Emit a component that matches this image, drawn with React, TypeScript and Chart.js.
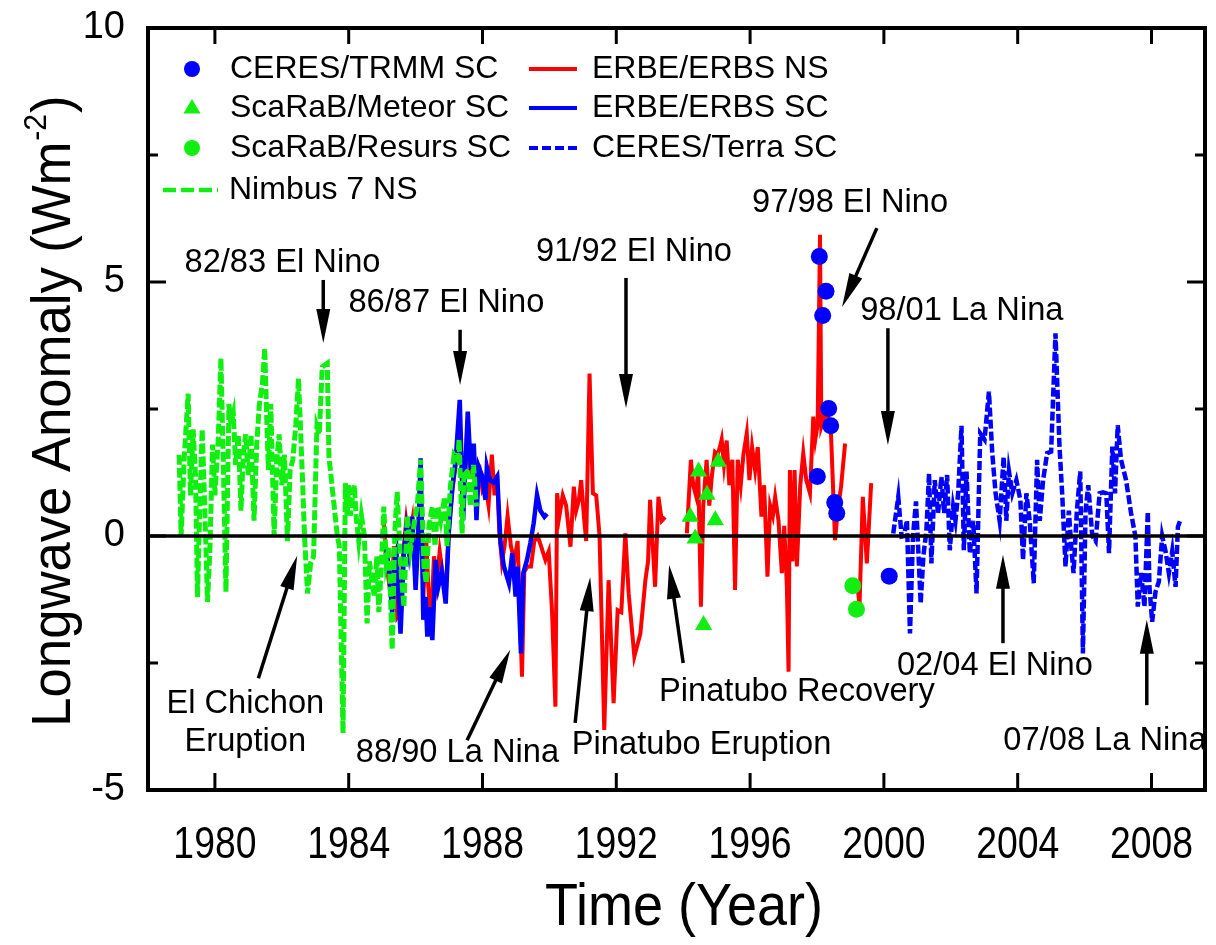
import React, { useEffect, useRef } from 'react';
import { Chart, registerables } from 'chart.js';

Chart.register(...registerables);

const FONT = "'Liberation Sans', Arial, Helvetica, sans-serif";
const RED = '#ff0000';
const BLUE = '#0000ff';
const GREEN = '#11ee11';

const X_MIN = 1978;
const X_MAX = 2009.6;
const Y_MIN = -5;
const Y_MAX = 10;

const xTickYears = [1980, 1984, 1988, 1992, 1996, 2000, 2004, 2008];
const yMajorTicks = [-5, 0, 5, 10];
const yMinorTicks = [-2.5, 2.5, 7.5];

// Nimbus 7 NS (green dashed)
const nimbus7NS: [number, number][] = [
  [1978.93, 1.6], [1978.99, 0.0], [1979.08, 1.5], [1979.2, 2.8], [1979.27, 0.8], [1979.35, 2.1],
  [1979.42, 1.2], [1979.48, -1.2], [1979.55, 0.6], [1979.62, 2.1], [1979.7, 0.5], [1979.78, -1.3],
  [1979.85, -0.3], [1979.93, 1.8], [1980.0, 0.8], [1980.1, 1.9], [1980.18, 3.5], [1980.25, 1.5],
  [1980.33, -1.1], [1980.42, 2.6], [1980.48, 2.2], [1980.55, 2.4], [1980.62, 1.4], [1980.7, 2.0],
  [1980.78, 0.5], [1980.85, 1.6], [1980.92, 2.0], [1981.0, 1.2], [1981.08, 2.0], [1981.17, 0.3],
  [1981.25, 1.8], [1981.33, 2.6], [1981.42, 3.0], [1981.49, 3.7], [1981.55, 2.3], [1981.6, 1.3],
  [1981.67, 2.6], [1981.77, 0.0], [1981.85, 1.5], [1981.92, 2.0], [1982.0, 1.0], [1982.08, 1.6],
  [1982.17, -0.1], [1982.25, 1.3], [1982.33, 1.5], [1982.42, 2.2], [1982.5, 3.1], [1982.62, 1.1],
  [1982.68, 0.0], [1982.77, -1.13], [1982.86, -0.54], [1982.95, -0.4], [1983.05, 2.15], [1983.12, 2.0],
  [1983.21, 3.33], [1983.36, 3.4], [1983.41, 1.56], [1983.58, 0.5], [1983.66, 0.0], [1983.72, -0.2],
  [1983.83, -3.88], [1983.9, 1.04], [1983.95, 0.4], [1984.0, 1.0], [1984.05, 0.4], [1984.1, 0.7],
  [1984.17, 1.0], [1984.22, 0.4], [1984.3, -0.1], [1984.38, 0.4], [1984.47, 0.0], [1984.55, -1.72],
  [1984.62, -0.5], [1984.7, -0.9], [1984.77, -1.2], [1984.84, -0.4], [1984.9, -1.5], [1984.97, -0.7],
  [1985.05, 0.58], [1985.12, -0.5], [1985.2, -0.2], [1985.3, -2.24], [1985.38, 0.1], [1985.45, 0.87],
  [1985.55, -0.54], [1985.65, -1.4], [1985.75, 0.4], [1985.85, -0.25], [1985.95, 0.22], [1986.05, 0.6],
  [1986.15, 1.5], [1986.25, -0.6], [1986.32, -0.93], [1986.4, 0.2], [1986.5, 0.58], [1986.58, -0.2],
  [1986.66, 0.58], [1986.75, 0.3], [1986.87, 0.77], [1986.94, -0.2], [1987.04, 0.97], [1987.15, 1.6],
  [1987.26, 1.5], [1987.3, 1.9], [1987.39, 0.05], [1987.45, 1.3], [1987.55, 1.25], [1987.64, 0.58],
  [1987.73, 1.4], [1987.82, 0.58],
];

// ERBE/ERBS NS (red solid), null = data gap
const erbeNS: [number, number | null][] = [
  [1985.05, 0.3], [1985.12, -0.5], [1985.2, -0.9], [1985.28, -1.3], [1985.35, -0.2], [1985.45, -1.6],
  [1985.55, -1.5], [1985.62, -0.4], [1985.72, 0.3], [1985.8, -0.1], [1985.9, 0.3], [1986.0, -0.9],
  [1986.08, 0.2], [1986.15, 1.3], [1986.23, -1.2], [1986.32, -0.1], [1986.38, -1.0], [1986.46, -1.7],
  [1986.55, -0.4], [1986.63, -0.9], [1986.72, -0.3], [1986.8, -0.7], [1986.9, -1.2], [1986.99, 0.1],
  [1987.1, 0.9], [1987.2, 1.4], [1987.32, 2.4], [1987.42, 0.5], [1987.56, 2.3], [1987.65, 1.2],
  [1987.74, 1.7], [1987.82, 0.6], [1987.9, 1.4], [1988.0, 0.9], [1988.09, 1.0], [1988.18, 0.6],
  [1988.28, 1.6], [1988.36, 0.8], [1988.44, 1.2], [1988.5, 0.1], [1988.58, -0.5], [1988.66, -0.2],
  [1988.75, 0.4], [1988.85, -0.2], [1988.95, -0.5], [1989.05, -0.1], [1989.18, -2.77], [1989.25, -0.7],
  [1989.35, -0.6], [1989.45, -0.6], [1989.55, -0.1], [1989.65, 0.0], [1989.75, -0.2], [1989.88, -0.47],
  [1989.98, -0.3], [1990.08, -1.5], [1990.18, -3.36], [1990.23, 0.84], [1990.3, 0.4], [1990.4, 0.8],
  [1990.5, 0.6], [1990.63, -0.21], [1990.73, 0.97], [1990.8, 0.5], [1990.88, 0.7], [1990.95, 1.1],
  [1991.03, 0.4], [1991.1, -0.1], [1991.2, 3.2], [1991.3, 0.84], [1991.4, 0.8], [1991.5, 0.0],
  [1991.64, -3.82], [1991.77, -0.87], [1991.92, -3.29], [1992.04, -1.46], [1992.15, -1.5], [1992.27, 0.05],
  [1992.37, -1.13], [1992.54, -2.37], [1992.72, -1.92], [1992.87, -0.87], [1992.95, -0.5], [1993.01, 0.71],
  [1993.16, -1.0], [1993.26, 0.77], [1993.36, 0.3], [1993.46, 0.37], [1993.8, null], [1994.11, 0.05],
  [1994.23, 1.5], [1994.3, 1.0], [1994.38, 0.8], [1994.45, 1.3], [1994.53, -1.39], [1994.6, 0.6],
  [1994.7, 1.5], [1994.78, 0.6], [1994.86, 1.2], [1994.95, 1.65], [1995.03, 1.6], [1995.1, 1.76],
  [1995.15, 1.9], [1995.22, 1.4], [1995.3, 1.88], [1995.38, 1.0], [1995.47, 1.5], [1995.55, -1.06],
  [1995.63, 1.5], [1995.72, 1.0], [1995.8, 1.6], [1995.9, 2.02], [1995.98, 1.1], [1996.06, 1.75],
  [1996.15, 1.3], [1996.23, 1.75], [1996.34, 0.38], [1996.42, 1.0], [1996.52, -0.8], [1996.6, 0.6],
  [1996.68, 0.4], [1996.75, 0.77], [1996.85, 0.3], [1996.95, -0.73], [1997.02, 0.2], [1997.1, -1.0],
  [1997.15, -2.67], [1997.19, 1.3], [1997.27, -0.5], [1997.33, 1.3], [1997.4, -0.6], [1997.5, 1.0],
  [1997.59, 1.63], [1997.68, 1.1], [1997.79, 0.84], [1997.89, 2.35], [1997.95, 1.9], [1998.02, 2.2],
  [1998.09, 5.93], [1998.13, 2.15], [1998.3, 2.5], [1998.42, 2.0], [1998.54, -0.08], [1998.62, 0.5],
  [1998.72, 0.97], [1998.84, 1.82], [1999.0, null], [1999.22, -1.0], [1999.27, -1.4], [1999.37, 0.77],
  [1999.49, -0.54], [1999.62, 1.04],
];

// ERBE/ERBS SC (blue solid)
const erbeSC: [number, number][] = [
  [1985.1, -0.2], [1985.2, -0.6], [1985.3, -1.52], [1985.38, -0.5], [1985.43, -0.34], [1985.55, -1.92],
  [1985.65, -0.34], [1985.72, 0.12], [1985.8, -0.3], [1985.9, 0.38], [1986.0, -1.06], [1986.08, 0.0],
  [1986.15, 1.53], [1986.23, -1.65], [1986.3, -1.2], [1986.35, -1.98], [1986.42, -1.4], [1986.5, -2.05],
  [1986.6, -0.47], [1986.68, -1.0], [1986.78, -0.7], [1986.9, -1.33], [1986.99, 0.05], [1987.1, 0.97],
  [1987.2, 1.5], [1987.32, 2.68], [1987.42, 0.31], [1987.56, 2.45], [1987.65, 1.3], [1987.74, 1.82],
  [1987.82, 0.31], [1987.89, 1.36], [1987.98, 1.2], [1988.09, 0.71], [1988.13, 1.36], [1988.22, 1.1],
  [1988.33, 1.05], [1988.44, 1.17], [1988.54, -0.14], [1988.64, -0.6], [1988.79, -0.93], [1988.89, -0.34],
  [1988.99, -1.19], [1989.05, -0.6], [1989.15, -2.31], [1989.22, -0.73], [1989.33, -0.47], [1989.43, -0.14],
  [1989.53, 0.25], [1989.63, 0.81], [1989.73, 0.5], [1989.85, 0.38], [1989.93, 0.44],
];

// CERES/Terra SC (blue dashed)
const ceresTerraSC: [number, number][] = [
  [2000.28, 0.05], [2000.43, 0.77], [2000.53, -0.01], [2000.6, 0.0], [2000.69, 0.31], [2000.78, -1.92],
  [2000.87, 0.0], [2000.96, 0.68], [2001.03, -0.3], [2001.1, -1.33], [2001.18, -0.4], [2001.27, 0.1],
  [2001.35, 1.23], [2001.42, -0.54], [2001.52, 1.1], [2001.62, 0.45], [2001.72, 1.16], [2001.8, 0.45],
  [2001.89, 1.2], [2001.97, -0.28], [2002.07, 0.57], [2002.14, 0.3], [2002.22, 0.84], [2002.32, 2.17],
  [2002.39, -0.28], [2002.47, 1.27], [2002.57, -0.34], [2002.67, 0.3], [2002.77, -1.13], [2002.88, 2.02],
  [2003.01, 1.9], [2003.14, 2.84], [2003.24, 1.63], [2003.34, 0.84], [2003.46, 0.3], [2003.58, 1.56],
  [2003.66, 0.3], [2003.74, 1.27], [2003.84, 0.84], [2003.96, 1.1], [2004.08, 0.71], [2004.16, -0.47],
  [2004.26, 0.84], [2004.36, 0.3], [2004.48, -0.93], [2004.58, 1.5], [2004.66, 0.3], [2004.76, 1.1],
  [2004.88, 1.63], [2005.0, 1.66], [2005.13, 3.99], [2005.25, 1.76], [2005.33, 0.84], [2005.43, -0.6],
  [2005.53, 0.5], [2005.6, -0.2], [2005.67, -0.73], [2005.77, 0.5], [2005.87, 1.27], [2005.95, -2.31],
  [2006.03, 0.5], [2006.11, 1.0], [2006.23, 0.0], [2006.33, -0.1], [2006.45, 0.84], [2006.55, 0.86],
  [2006.65, 0.84], [2006.73, -0.34], [2006.83, 1.76], [2006.91, 0.84], [2006.99, 2.18], [2007.09, 1.5],
  [2007.24, 1.1], [2007.39, 0.45], [2007.52, -0.01], [2007.59, -1.39], [2007.69, -0.73], [2007.79, -1.39],
  [2007.89, 0.48], [2007.94, -1.0], [2008.02, -1.69], [2008.12, -1.1], [2008.22, -0.9], [2008.32, 0.0],
  [2008.42, -0.3], [2008.52, -0.73], [2008.62, -0.3], [2008.72, -1.0], [2008.79, 0.18], [2008.86, 0.31],
];

// CERES/TRMM SC (blue circles)
const ceresTrmmSC: [number, number][] = [
  [1998.01, 1.17], [1998.07, 5.5], [1998.17, 4.34], [1998.27, 4.82], [1998.35, 2.51],
  [1998.41, 2.17], [1998.53, 0.66], [1998.59, 0.45], [2000.16, -0.79],
];

// ScaRaB/Meteor SC (green triangles)
const scarabMeteorSC: [number, number][] = [
  [1994.21, 0.38], [1994.36, -0.05], [1994.46, 1.27], [1994.61, -1.75], [1994.71, 0.81],
  [1994.96, 0.31], [1995.05, 1.46],
];

// ScaRaB/Resurs SC (green circles)
const scarabResursSC: [number, number][] = [
  [1999.07, -0.98], [1999.18, -1.44],
];

// Event annotations (text centre and arrow tail -> tip, in data units)
const annotations = [
  { lines: ['82/83 El Nino'], tx: 1982.02, ty: 5.39, from: [1983.24, 5.04], to: [1983.24, 3.8] },
  { lines: ['86/87 El Nino'], tx: 1986.92, ty: 4.59, from: [1987.33, 4.06], to: [1987.33, 2.97] },
  { lines: ['91/92 El Nino'], tx: 1992.53, ty: 5.59, from: [1992.29, 5.08], to: [1992.29, 2.52] },
  { lines: ['97/98 El Nino'], tx: 1998.99, ty: 6.56, from: [1999.79, 6.06], to: [1998.75, 4.51] },
  { lines: ['98/01 La Nina'], tx: 2002.33, ty: 4.43, from: [2000.12, 4.09], to: [2000.12, 1.79] },
  { lines: ['02/04 El Nino'], tx: 2003.32, ty: -2.56, from: [2003.56, -2.11], to: [2003.56, -0.37] },
  { lines: ['07/08 La Nina'], tx: 2006.61, ty: -4.02, from: [2007.86, -3.33], to: [2007.86, -1.65] },
  { lines: ['El Chichon', 'Eruption'], tx: 1980.91, ty: -3.29, from: [1981.3, -2.8], to: [1982.46, -0.39] },
  { lines: ['88/90 La Nina'], tx: 1987.25, ty: -4.27, from: [1987.54, -4.02], to: [1988.83, -2.24] },
  { lines: ['Pinatubo Eruption'], tx: 1994.55, ty: -4.11, from: [1990.77, -3.68], to: [1991.22, -0.81] },
  { lines: ['Pinatubo Recovery'], tx: 1997.4, ty: -3.07, from: [1994.0, -2.5], to: [1993.58, -0.57] },
];

const legendLeft = [
  { label: 'CERES/TRMM SC', kind: 'circle', color: BLUE },
  { label: 'ScaRaB/Meteor SC', kind: 'triangle', color: GREEN },
  { label: 'ScaRaB/Resurs SC', kind: 'circle', color: GREEN },
];
const legendRight = [
  { label: 'ERBE/ERBS NS', kind: 'line', color: RED },
  { label: 'ERBE/ERBS SC', kind: 'line', color: BLUE },
  { label: 'CERES/Terra SC', kind: 'dash', color: BLUE },
];

const toXY = (arr: [number, number | null][]) => arr.map(([x, y]) => ({ x, y }));

function drawArrow(ctx: CanvasRenderingContext2D, x1: number, y1: number, x2: number, y2: number) {
  const dx = x2 - x1;
  const dy = y2 - y1;
  const len = Math.hypot(dx, dy);
  const ux = dx / len;
  const uy = dy / len;
  const headLen = 34;
  const headHalf = 7;
  const bx = x2 - ux * headLen;
  const by = y2 - uy * headLen;
  ctx.beginPath();
  ctx.moveTo(x1, y1);
  ctx.lineTo(bx + ux * 2, by + uy * 2);
  ctx.lineWidth = 3.5;
  ctx.strokeStyle = '#000';
  ctx.stroke();
  ctx.beginPath();
  ctx.moveTo(x2, y2);
  ctx.lineTo(bx - uy * headHalf, by + ux * headHalf);
  ctx.lineTo(bx + uy * headHalf, by - ux * headHalf);
  ctx.closePath();
  ctx.fillStyle = '#000';
  ctx.fill();
}

function drawMarker(ctx: CanvasRenderingContext2D, kind: string, x: number, y: number, color: string) {
  ctx.fillStyle = color;
  ctx.beginPath();
  if (kind === 'circle') {
    ctx.arc(x, y, 8, 0, Math.PI * 2);
  } else {
    const r = 9;
    ctx.moveTo(x, y - r);
    ctx.lineTo(x + r * 0.95, y + r * 0.6);
    ctx.lineTo(x - r * 0.95, y + r * 0.6);
    ctx.closePath();
  }
  ctx.fill();
}

// text compressed horizontally (the original uses a condensed face)
function fillNarrow(ctx: CanvasRenderingContext2D, text: string, x: number, y: number, sx: number) {
  ctx.save();
  ctx.translate(x, y);
  ctx.scale(sx, 1);
  ctx.fillText(text, 0, 0);
  ctx.restore();
}

const zeroLinePlugin = {
  id: 'zeroLine',
  afterDatasetDraw(chart: any, args: any) {
    if (chart.data.datasets[args.index].label !== 'Nimbus 7 NS') return;
    const { ctx, chartArea: ca, scales } = chart;
    const y0 = scales.y.getPixelForValue(0);
    ctx.save();
    ctx.beginPath();
    ctx.moveTo(ca.left, y0);
    ctx.lineTo(ca.right, y0);
    ctx.lineWidth = 3.5;
    ctx.strokeStyle = '#000';
    ctx.stroke();
    ctx.restore();
  },
};

const decorPlugin = {
  id: 'decor',
  afterDraw(chart: any) {
    const { ctx, chartArea: ca, scales } = chart;
    const xs = scales.x;
    const ys = scales.y;
    ctx.save();

    // frame
    ctx.strokeStyle = '#000';
    ctx.lineWidth = 4;
    ctx.strokeRect(ca.left, ca.top, ca.right - ca.left, ca.bottom - ca.top);

    // inward ticks
    ctx.lineWidth = 3;
    const seg = (a: number, b: number, c: number, d: number) => {
      ctx.beginPath();
      ctx.moveTo(a, b);
      ctx.lineTo(c, d);
      ctx.stroke();
    };
    xTickYears.forEach((v) => {
      const px = xs.getPixelForValue(v);
      seg(px, ca.bottom, px, ca.bottom - 17);
      seg(px, ca.top, px, ca.top + 16);
    });
    yMajorTicks.forEach((v) => {
      const py = ys.getPixelForValue(v);
      seg(ca.left, py, ca.left + 18, py);
      seg(ca.right, py, ca.right - 18, py);
    });
    yMinorTicks.forEach((v) => {
      const py = ys.getPixelForValue(v);
      seg(ca.left, py, ca.left + 10, py);
      seg(ca.right, py, ca.right - 10, py);
    });

    // x tick labels (condensed)
    ctx.fillStyle = '#000';
    ctx.font = `45px ${FONT}`;
    ctx.textAlign = 'center';
    ctx.textBaseline = 'middle';
    xTickYears.forEach((v) => {
      fillNarrow(ctx, String(v), xs.getPixelForValue(v), ca.bottom + 56, 0.83);
    });

    // annotations
    ctx.font = `34px ${FONT}`;
    ctx.textAlign = 'center';
    ctx.textBaseline = 'middle';
    annotations.forEach((a) => {
      const tx = xs.getPixelForValue(a.tx);
      const ty = ys.getPixelForValue(a.ty);
      ctx.fillStyle = '#000';
      a.lines.forEach((ln, i) => fillNarrow(ctx, ln, tx, ty + i * 38, 0.96));
      drawArrow(
        ctx,
        xs.getPixelForValue(a.from[0]),
        ys.getPixelForValue(a.from[1]),
        xs.getPixelForValue(a.to[0]),
        ys.getPixelForValue(a.to[1])
      );
    });

    // legend
    ctx.font = `32px ${FONT}`;
    ctx.textAlign = 'left';
    ctx.textBaseline = 'middle';
    const rowsY = [ca.top + 41, ca.top + 80, ca.top + 120];
    legendLeft.forEach((it, i) => {
      drawMarker(ctx, it.kind, ca.left + 44, rowsY[i], it.color);
      ctx.fillStyle = '#000';
      ctx.fillText(it.label, ca.left + 82, rowsY[i]);
    });
    legendRight.forEach((it, i) => {
      ctx.beginPath();
      ctx.moveTo(ca.left + 381, rowsY[i]);
      ctx.lineTo(ca.left + 429, rowsY[i]);
      ctx.strokeStyle = it.color;
      ctx.lineWidth = 4;
      ctx.setLineDash(it.kind === 'dash' ? [9, 4] : []);
      ctx.stroke();
      ctx.setLineDash([]);
      ctx.fillStyle = '#000';
      ctx.fillText(it.label, ca.left + 444, rowsY[i]);
    });
    const nimY = ca.top + 162;
    ctx.beginPath();
    ctx.moveTo(ca.left + 15, nimY);
    ctx.lineTo(ca.left + 70, nimY);
    ctx.strokeStyle = GREEN;
    ctx.lineWidth = 4.5;
    ctx.setLineDash([13, 5]);
    ctx.stroke();
    ctx.setLineDash([]);
    ctx.fillStyle = '#000';
    ctx.fillText('Nimbus 7 NS', ca.left + 81, nimY);

    // y-axis title with superscript
    ctx.save();
    ctx.translate(70, (ca.top + ca.bottom) / 2 + 3);
    ctx.rotate(-Math.PI / 2);
    ctx.scale(0.94, 1);
    ctx.textBaseline = 'alphabetic';
    ctx.textAlign = 'left';
    const mainFont = `56px ${FONT}`;
    const supFont = `32px ${FONT}`;
    const p1 = 'Longwave Anomaly (Wm';
    const p2 = '-2';
    const p3 = ')';
    ctx.font = mainFont;
    const w1 = ctx.measureText(p1).width;
    const w3 = ctx.measureText(p3).width;
    ctx.font = supFont;
    const w2 = ctx.measureText(p2).width;
    let cx = -(w1 + w2 + w3) / 2;
    ctx.fillStyle = '#000';
    ctx.font = mainFont;
    ctx.fillText(p1, cx, 0);
    cx += w1;
    ctx.font = supFont;
    ctx.fillText(p2, cx + 1, -24);
    cx += w2 + 2;
    ctx.font = mainFont;
    ctx.fillText(p3, cx, 0);
    ctx.restore();

    // x-axis title
    ctx.font = `60px ${FONT}`;
    ctx.textAlign = 'center';
    ctx.textBaseline = 'alphabetic';
    ctx.fillStyle = '#000';
    fillNarrow(ctx, 'Time (Year)', 684, 925, 0.9);

    ctx.restore();
  },
};

export default function App() {
  const canvasRef = useRef<HTMLCanvasElement | null>(null);

  useEffect(() => {
    const canvas = canvasRef.current;
    if (!canvas) return;
    const lineBase = { pointRadius: 0, tension: 0, fill: false, spanGaps: false };
    const chart = new Chart(canvas, {
      type: 'line',
      data: {
        datasets: [
          {
            label: 'CERES/TRMM SC', data: toXY(ceresTrmmSC), showLine: false, pointStyle: 'circle',
            pointRadius: 8.5, backgroundColor: BLUE, borderColor: BLUE, borderWidth: 0, order: 0,
          },
          {
            label: 'ScaRaB/Resurs SC', data: toXY(scarabResursSC), showLine: false, pointStyle: 'circle',
            pointRadius: 8.5, backgroundColor: GREEN, borderColor: GREEN, borderWidth: 0, order: 0,
          },
          {
            label: 'ScaRaB/Meteor SC', data: toXY(scarabMeteorSC), showLine: false, pointStyle: 'triangle',
            pointRadius: 10, backgroundColor: GREEN, borderColor: GREEN, borderWidth: 0, order: 0,
          },
          {
            label: 'Nimbus 7 NS', data: toXY(nimbus7NS), borderColor: GREEN, borderWidth: 5,
            borderDash: [10, 3], order: 2, ...lineBase,
          },
          {
            label: 'CERES/Terra SC', data: toXY(ceresTerraSC), borderColor: BLUE, borderWidth: 4.5,
            borderDash: [9, 3], order: 3, ...lineBase,
          },
          {
            label: 'ERBE/ERBS SC', data: toXY(erbeSC), borderColor: BLUE, borderWidth: 4.5, order: 3, ...lineBase,
          },
          {
            label: 'ERBE/ERBS NS', data: toXY(erbeNS), borderColor: RED, borderWidth: 4, order: 4, ...lineBase,
          },
        ],
      },
      options: {
        responsive: false,
        animation: false,
        events: [],
        layout: { padding: { top: 28, right: 11, left: 0, bottom: 0 } },
        plugins: { legend: { display: false }, tooltip: { enabled: false }, title: { display: false } },
        scales: {
          x: {
            type: 'linear',
            min: X_MIN,
            max: X_MAX,
            grid: { display: false },
            border: { display: false },
            ticks: { display: false },
            afterBuildTicks: (s: any) => {
              s.ticks = xTickYears.map((v) => ({ value: v }));
            },
            afterFit: (s: any) => {
              s.height = 155;
              s.paddingLeft = 0;
              s.paddingRight = 0;
            },
          },
          y: {
            type: 'linear',
            min: Y_MIN,
            max: Y_MAX,
            grid: { display: false },
            border: { display: false },
            ticks: {
              color: '#000',
              font: { family: FONT, size: 38 },
              padding: 15,
              callback: (v: any) => String(v),
            },
            afterBuildTicks: (s: any) => {
              s.ticks = yMajorTicks.map((v) => ({ value: v }));
            },
            afterFit: (s: any) => {
              s.width = 148;
              s.paddingTop = 0;
              s.paddingBottom = 0;
            },
          },
        },
      },
      plugins: [zeroLinePlugin, decorPlugin],
    });
    return () => chart.destroy();
  }, []);

  return (
    <div style={{ position: 'absolute', left: 0, top: 0, width: 1216, height: 945, background: '#fff' }}>
      <canvas ref={canvasRef} width={1216} height={945} style={{ display: 'block' }} />
    </div>
  );
}
